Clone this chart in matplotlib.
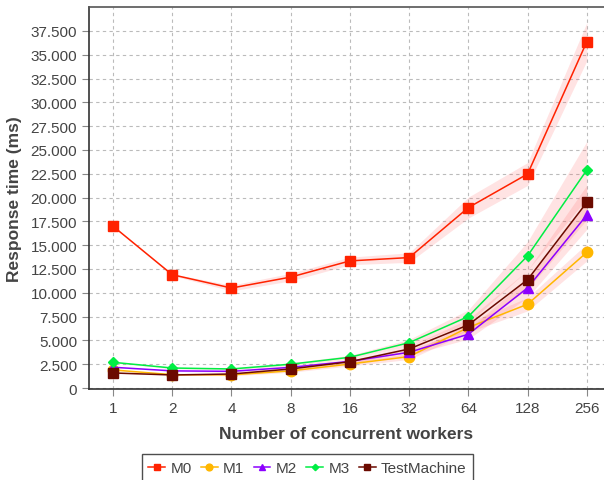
import matplotlib
matplotlib.use("Agg")
import matplotlib.pyplot as plt
import numpy as np

# Concurrency levels (categorical x axis)
workers = ["1", "2", "4", "8", "16", "32", "64", "128", "256"]

# Mean response times (ms)
m0 = [17000, 11900, 10500, 11650, 13350, 13700, 18950, 22480, 36380]
m1 = [1900, 1400, 1380, 1800, 2520, 3300, 6360, 8800, 14250]
m2 = [2180, 1800, 1750, 2170, 2800, 3750, 5650, 10520, 18170]
m3 = [2700, 2100, 2000, 2500, 3230, 4760, 7510, 13880, 22900]
test_machine = [1580, 1370, 1470, 2000, 2760, 4100, 6630, 11380, 19500]

# Confidence band bounds (ms)
m0_low = [16950, 11800, 10200, 11250, 12950, 13200, 17850, 21280, 34380]
m0_high = [17050, 12000, 10800, 12050, 13750, 14200, 20050, 23680, 38380]
m1_low = [1850, 1350, 1280, 1650, 2320, 3000, 5860, 8100, 13350]
m1_high = [1950, 1450, 1480, 1950, 2720, 3600, 6860, 9500, 15150]
m2_low = [2130, 1750, 1650, 2020, 2600, 3450, 5150, 9520, 16670]
m2_high = [2230, 1850, 1850, 2320, 3000, 4050, 6150, 11520, 19670]
m3_low = [2650, 2020, 1900, 2350, 3030, 4410, 6810, 12380, 19900]
m3_high = [2750, 2180, 2100, 2650, 3430, 5110, 8210, 15380, 25900]
tm_low = [1530, 1320, 1370, 1850, 2560, 3800, 6030, 10380, 17700]
tm_high = [1630, 1420, 1570, 2150, 2960, 4400, 7230, 12380, 21300]

y_ticks = np.arange(0, 37501, 2500)

series = [
    ("M0", m0, m0_low, m0_high, "#ff2200", "s", 6.5),
    ("M1", m1, m1_low, m1_high, "#ffb700", "o", 7.5),
    ("M2", m2, m2_low, m2_high, "#8c00ff", "^", 7),
    ("M3", m3, m3_low, m3_high, "#00ee44", "D", 5),
    ("TestMachine", test_machine, tm_low, tm_high, "#6b0a00", "s", 6.5),
]

plt.rcParams["font.family"] = ["Liberation Sans", "DejaVu Sans"]
text_color = "#444444"

fig = plt.figure(figsize=(6.04, 4.81), dpi=100)
ax = fig.add_axes([89 / 604, 1 - 390 / 481, 515 / 604, 382 / 481])

x = np.arange(len(workers))

for name, vals, lo, hi, color, marker, ms in series:
    ax.fill_between(x, lo, hi, color="#ff6666", alpha=0.18, linewidth=0, zorder=1)

for name, vals, lo, hi, color, marker, ms in series:
    ax.plot(x, vals, color=color, marker=marker, markersize=ms, linewidth=1.1,
            label=name, zorder=3)

ax.set_xlim(-0.405, 8.29)
ax.set_ylim(-105, 40020)
ax.set_xticks(x)
ax.set_xticklabels(workers)
ax.set_yticks(y_ticks)
ax.set_yticklabels([f"{v:,.0f}".replace(",", ".") if v else "0" for v in y_ticks])

ax.grid(True, color="#bbbbbb", linestyle=(0, (3, 3)), linewidth=0.8)
ax.set_axisbelow(True)

for side in ["left", "bottom", "top"]:
    ax.spines[side].set_color("#333333")
    ax.spines[side].set_linewidth(1.2)
ax.spines["right"].set_visible(False)
ax.spines["top"].set_color("#555555")

ax.tick_params(axis="both", colors="#888888", labelcolor=text_color, labelsize=11,
               length=5, width=0.8, direction="out")

ax.set_xlabel("Number of concurrent workers", fontsize=12.5, fontweight="bold",
              color=text_color, labelpad=8)
ax.set_ylabel("Response time (ms)", fontsize=12.5, fontweight="bold",
              color=text_color, labelpad=6)

leg = fig.legend(*ax.get_legend_handles_labels(), loc="upper center",
                 bbox_to_anchor=(307.5 / 604, 1 - 455 / 481), ncol=5,
                 fontsize=11, frameon=True, fancybox=False, handlelength=1.1,
                 handletextpad=0.35, columnspacing=0.6, borderpad=0.45,
                 borderaxespad=0, markerscale=0.65)
leg.get_frame().set_edgecolor("#222222")
leg.get_frame().set_linewidth(1.0)
for t in leg.get_texts():
    t.set_color(text_color)

fig.savefig("out.png", dpi=100)
